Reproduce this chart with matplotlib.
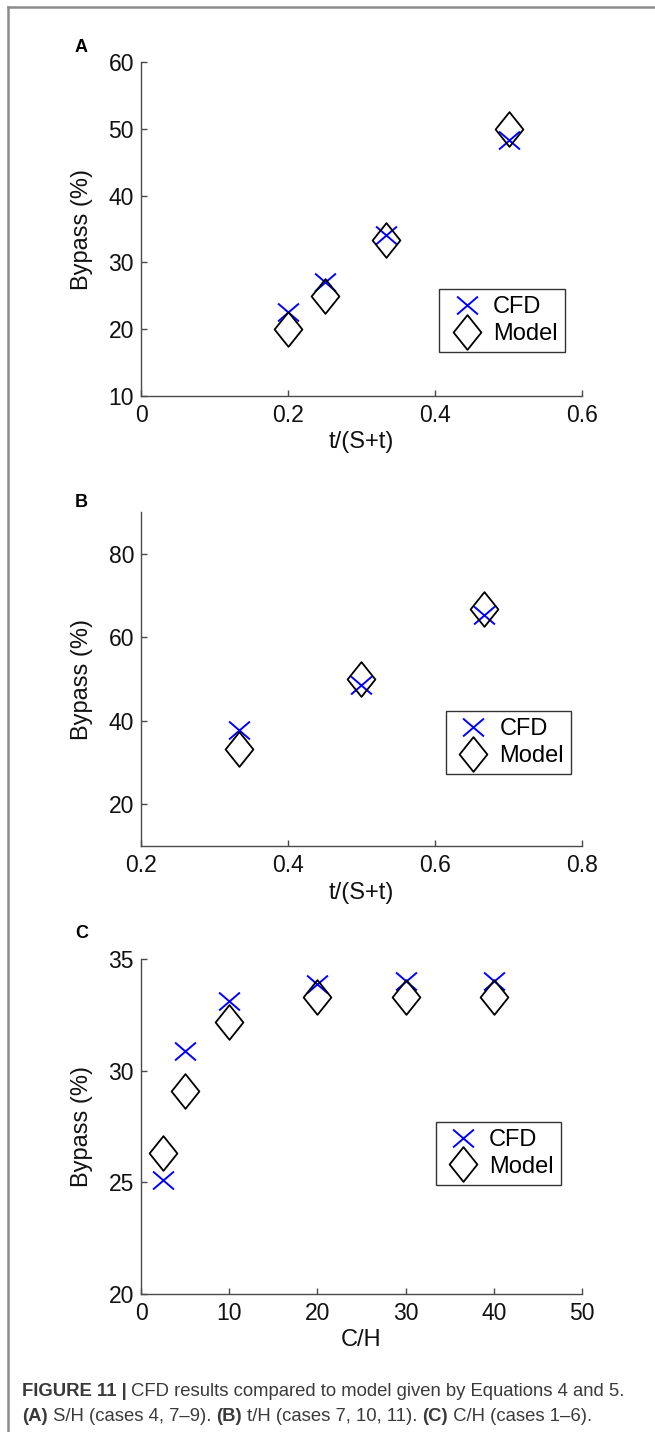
import matplotlib
matplotlib.use("Agg")
import matplotlib.pyplot as plt
from matplotlib.path import Path
from matplotlib.lines import Line2D
from matplotlib.ticker import FuncFormatter

plt.rcParams['font.family'] = ['Liberation Sans', 'DejaVu Sans']

# (A) bypass versus t/(S+t), cases 4, 7-9
a_x = [0.2, 0.25, 0.333, 0.5]
a_cfd = [22.6, 27.1, 34.1, 48.3]
a_model = [20.0, 25.0, 33.3, 50.0]

# (B) bypass versus t/(S+t), cases 7, 10, 11
b_x = [0.333, 0.5, 0.667]
b_cfd = [37.8, 48.5, 65.3]
b_model = [33.3, 50.0, 66.7]

# (C) bypass versus C/H, cases 1-6
c_x = [2.5, 5, 10, 20, 30, 40]
c_cfd = [25.1, 30.9, 33.1, 33.9, 34.0, 34.0]
c_model = [26.3, 29.1, 32.2, 33.3, 33.3, 33.3]

a_xticks = [0, 0.2, 0.4, 0.6]
a_yticks = [10, 20, 30, 40, 50, 60]
b_xticks = [0.2, 0.4, 0.6, 0.8]
b_yticks = [20, 40, 60, 80]
c_xticks = [0, 10, 20, 30, 40, 50]
c_yticks = [20, 25, 30, 35]

series_names = ["CFD", "Model"]
panel_letters = ["A", "B", "C"]

# tall diamond, like the MATLAB 'd' marker
diamond = Path([(0, 1), (0.8, 0), (0, -1), (-0.8, 0), (0, 1)],
               [Path.MOVETO, Path.LINETO, Path.LINETO, Path.LINETO, Path.CLOSEPOLY])
# slightly wide cross
cross = Path([(-1, -0.86), (1, 0.86), (-1, 0.86), (1, -0.86)],
             [Path.MOVETO, Path.LINETO, Path.MOVETO, Path.LINETO])

W, H = 655, 1432
fig = plt.figure(figsize=(W / 100, H / 100), dpi=100)

axis_col = '#4a4a4a'
fs = 16.5


def panel(rect, x, cfd, model, xlim, ylim, xticks, yticks, xlabel, leg_anchor):
    ax = fig.add_axes(rect)
    ax.plot(x, cfd, linestyle='none', marker=cross, color=(0, 0, 1),
            markersize=15, markeredgewidth=1.4, markerfacecolor='none',
            label=series_names[0])
    ax.plot(x, model, linestyle='none', marker=diamond, markersize=25,
            markerfacecolor='none', markeredgecolor='black',
            markeredgewidth=1.3, label=series_names[1])
    ax.set_xlim(*xlim)
    ax.set_ylim(*ylim)
    ax.set_xticks(xticks)
    ax.set_yticks(yticks)
    fmt = FuncFormatter(lambda v, p: '%g' % v)
    ax.xaxis.set_major_formatter(fmt)
    ax.yaxis.set_major_formatter(fmt)
    for s in ('top', 'right'):
        ax.spines[s].set_visible(False)
    for s in ('left', 'bottom'):
        ax.spines[s].set_color(axis_col)
        ax.spines[s].set_linewidth(1.0)
    ax.tick_params(direction='in', length=4, width=1.0, color=axis_col,
                   labelsize=fs, labelcolor='#111111')
    ax.tick_params(axis='x', pad=6)
    ax.tick_params(axis='y', pad=5)
    ax.set_xlabel(xlabel, fontsize=fs + 0.5, labelpad=3, color='#111111')
    ax.set_ylabel("Bypass (%)", fontsize=fs + 0.5, labelpad=11, color='#111111')
    leg = ax.legend(loc='lower right', bbox_to_anchor=leg_anchor,
                    fontsize=fs + 0.5, frameon=True, fancybox=False,
                    edgecolor='#333333', framealpha=1, borderpad=0.3,
                    handletextpad=0.22, handlelength=1.75, labelspacing=0.2,
                    borderaxespad=0)
    leg.get_frame().set_linewidth(1.0)
    return ax


def fy(top_px, bottom_px):
    return (H - bottom_px) / H, (bottom_px - top_px) / H


left, width = 141 / W, 441 / W
b, h = fy(62, 396)
panel([left, b, width, h], a_x, a_cfd, a_model, (0, 0.6), (10, 60),
      a_xticks, a_yticks, "t/(S+t)", (0.961, 0.132))
b, h = fy(512, 846)
panel([left, b, width, h], b_x, b_cfd, b_model, (0.2, 0.8), (10, 90),
      b_xticks, b_yticks, "t/(S+t)", (0.975, 0.216))
b, h = fy(959, 1294)
panel([left, b, width, h], c_x, c_cfd, c_model, (0, 50), (20, 35),
      c_xticks, c_yticks, "C/H", (0.952, 0.326))

for letter, ypx in zip(panel_letters, [52, 507, 938]):
    fig.text(75 / W, 1 - ypx / H, letter, fontsize=13, fontweight='bold',
             va='baseline', ha='left')

# frame lines on top and left
frame_col = '#8c8c8c'
fig.add_artist(Line2D([8 / W, 1], [1 - 7 / H, 1 - 7 / H], color=frame_col, lw=1.8))
fig.add_artist(Line2D([8 / W, 8 / W], [0, 1 - 7 / H], color=frame_col, lw=1.8))

# caption
cap_col = '#3a3a3a'
cfs = 13.3
x0 = 22 / W
t1 = fig.text(x0, 1 - 1396 / H, "FIGURE 11 |", fontsize=cfs, fontweight='bold',
              color=cap_col, va='baseline', ha='left')
fig.canvas.draw()
r = fig.canvas.get_renderer()
bb = t1.get_window_extent(r)
fig.text((bb.x1 + 4) / W, 1 - 1396 / H,
         "CFD results compared to model given by Equations 4 and 5.",
         fontsize=cfs, color=cap_col, va='baseline', ha='left')

y2 = 1 - 1421 / H
parts = [("(A)", 'bold'), (" S/H (cases 4, 7\u20139). ", 'normal'),
         ("(B)", 'bold'), (" t/H (cases 7, 10, 11). ", 'normal'),
         ("(C)", 'bold'), (" C/H (cases 1\u20136).", 'normal')]
xp = 22
for txt, wgt in parts:
    t = fig.text(xp / W, y2, txt, fontsize=cfs, fontweight=wgt, color=cap_col,
                 va='baseline', ha='left')
    fig.canvas.draw()
    xp = t.get_window_extent(r).x1

fig.savefig("out.png", dpi=100, facecolor='white')
